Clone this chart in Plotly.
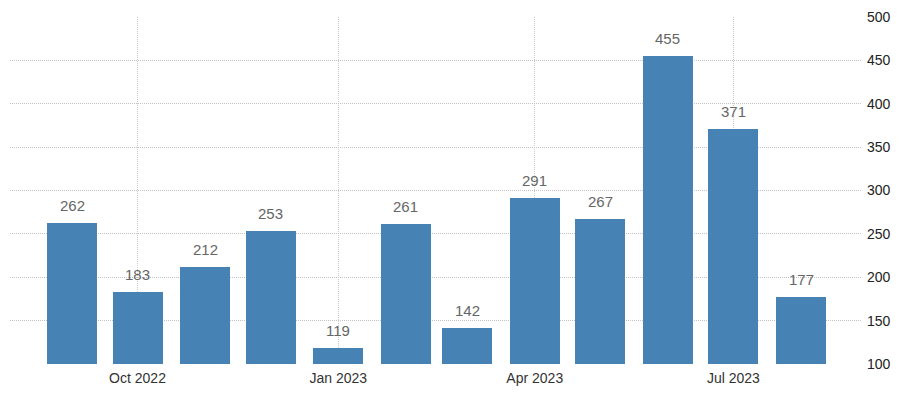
import plotly.graph_objects as go

months = ["2022-09-01", "2022-10-01", "2022-11-01", "2022-12-01", "2023-01-01", "2023-02-01",
          "2023-03-01", "2023-04-01", "2023-05-01", "2023-06-01", "2023-07-01", "2023-08-01"]
values = [262, 183, 212, 253, 119, 261, 142, 291, 267, 455, 371, 177]
y_ticks = [100, 150, 200, 250, 300, 350, 400, 450, 500]

DAY_MS = 86400000

fig = go.Figure(go.Bar(
    x=months, y=values,
    width=[22.9 * DAY_MS] * len(values),
    marker=dict(color="#4682B4", line=dict(width=0)),
    hoverinfo="skip",
))

for m, v in zip(months, values):
    fig.add_annotation(
        x=m, y=v, text=str(v), showarrow=False,
        xanchor="center", yanchor="bottom", yshift=7,
        font=dict(family="Liberation Sans, Arial", size=15, color="#666666"),
    )

fig.update_layout(
    width=900, height=397,
    margin=dict(l=2, r=46, t=9, b=41, autoexpand=False),
    paper_bgcolor="white", plot_bgcolor="white",
    showlegend=False,
    bargap=0,
    xaxis=dict(
        type="date",
        range=["2022-08-03 14:00", "2023-08-28 22:00"],
        tick0="2022-10-01", dtick="M3", tickformat="%b %Y",
        showgrid=True, gridcolor="#cccccc", griddash="1px,1px", gridwidth=1,
        zeroline=False, showline=False, ticks="",
        tickfont=dict(family="Liberation Sans, Arial", size=14, color="#333333"),
        ticklabelstandoff=4, automargin=False,
    ),
    yaxis=dict(
        side="right",
        range=[100, 500],
        tickvals=y_ticks,
        showgrid=True, gridcolor="#c4c4c4", griddash="1px,1px", gridwidth=1,
        zeroline=False, showline=False, ticks="",
        tickfont=dict(family="Liberation Sans, Arial", size=14, color="#222222"),
        ticklabelstandoff=4, automargin=False,
    ),
)

fig.write_html("out.html")
